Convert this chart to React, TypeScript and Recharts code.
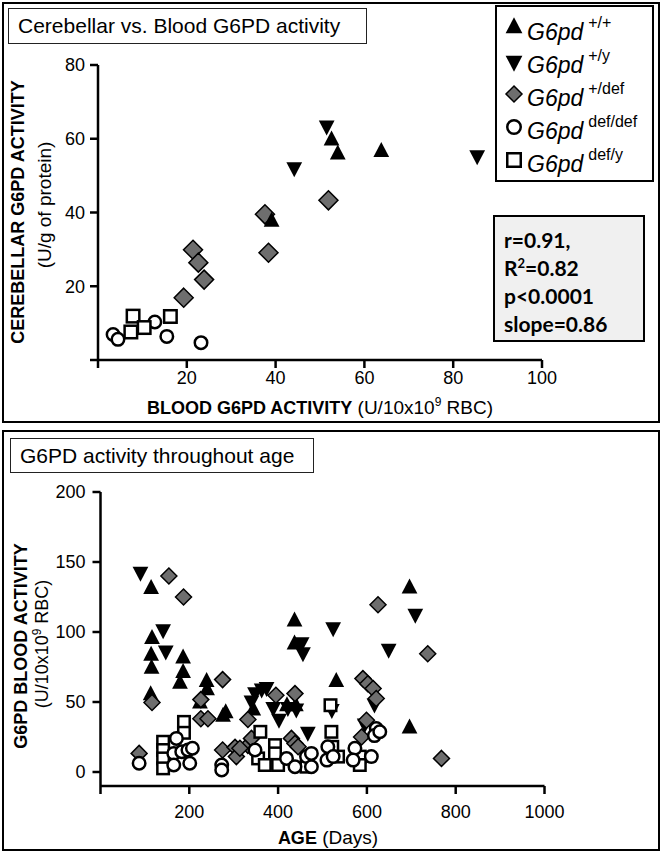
import { Scatter, ScatterChart, XAxis, YAxis } from "recharts";

// --- top panel: cerebellar vs. blood G6PD activity, [blood, cerebellum]
const cbWtFemale = [[52.6, 59.5], [54, 55.7], [63.8, 56.4], [39.1, 37.5]];
const cbWtMale = [[51.5, 63.6], [44.2, 52.3], [85.4, 55.5]];
const cbHet = [[21.4, 29.9], [22.6, 26.4], [23.9, 21.8], [19.3, 16.9], [37.6, 39.5], [38.4, 29.1], [51.9, 43.3]];
const cbDefFemale = [[3.4, 6.9], [4.5, 5.6], [12.8, 10.3], [15.5, 6.4], [23.2, 4.7]];
const cbDefMale = [[7.9, 11.9], [7.4, 7.6], [10.4, 8.8], [16.3, 11.8]];

// --- bottom panel: blood G6PD activity vs. age, [days, activity]
const ageWtFemale = [
  [114, 130.7], [116, 95], [114, 83], [115, 73.8], [113, 54.8], [186, 81], [186, 70.7], [179, 63],
  [239, 64.3], [240, 58.4], [224, 49], [276, 39.4], [282, 42], [437, 107.5], [437, 91], [344, 44],
  [420, 47], [440, 47], [531, 64.3], [696, 131], [696, 31],
];
const ageWtMale = [
  [90, 143], [141, 102], [147, 86.8], [348, 57], [363, 59.6], [374, 60.7], [340, 51], [389, 46.5],
  [402, 38], [422, 46.5], [441, 45.3], [453, 92.7], [456, 85.6], [467, 28.7], [524, 103.4], [521, 45],
  [595, 34.6], [617, 49], [649, 88], [709, 113],
];
const ageHet = [
  [87, 13.3], [116, 49.6], [154, 140], [187, 125], [226, 51.7], [226, 38], [242, 38], [275, 66],
  [275, 15.7], [303, 17.6], [306, 11], [332, 37.5], [332, 19], [314, 17], [340, 24], [395, 54.8],
  [438, 56], [430, 24], [438, 20.4], [445, 18], [591, 66.7], [602, 63], [614, 59.6], [621, 52.5],
  [599, 37], [588, 25], [625, 119.5], [737, 84.5], [768, 9.7],
];
const ageDefFemale = [
  [87, 6.2], [171, 24], [165, 13.3], [183, 14.5], [197, 15.7], [207, 17], [201, 6.2], [165, 5],
  [273, 5], [273, 1.4], [348, 15.7], [419, 9.7], [438, 3.8], [464, 11], [475, 13.3], [475, 3.8],
  [512, 18], [510, 8.5], [524, 11], [573, 17], [569, 8.5], [610, 11], [621, 31], [617, 26], [629, 28.7],
];
const ageDefMale = [
  [141, 21.6], [141, 15.7], [141, 9.7], [141, 2.6], [188, 35.8], [188, 28], [360, 28.7], [393, 19.2],
  [393, 13.3], [355, 9.7], [370, 5], [400, 5], [464, 3.8], [518, 47.7], [520, 28.7], [522, 18],
  [535, 11], [584, 11], [584, 5],
];

const topXTicks = [0, 20, 40, 60, 80, 100];
const topYTicks = [0, 20, 40, 60, 80];
const ageTicks = [0, 200, 400, 600, 800, 1000];
const bloodTicks = [-10, 0, 50, 100, 150, 200];

const genotypes = ["+/+", "+/y", "+/def", "def/def", "def/y"];
const statsLines = ["r=0.91,", "R2=0.82", "p<0.0001", "slope=0.86"];

const FONT = "'Liberation Sans', Arial, sans-serif";
const DIAMOND_FILL = "#6e6e6e";

const pts = (arr: number[][]) => arr.map(([x, y]) => ({ x, y }));

type Kind = "up" | "down" | "diamond" | "circle" | "square";
const kinds: Kind[] = ["up", "down", "diamond", "circle", "square"];

// s = rough outer size of the marker in px
const Marker = ({ kind, cx, cy, s }: { kind: Kind; cx: number; cy: number; s: number }) => {
  if (kind === "up" || kind === "down") {
    const w = s * 1.05;
    const h = s;
    const p =
      kind === "up"
        ? `${cx},${cy - (h * 2) / 3} ${cx - w / 2},${cy + h / 3} ${cx + w / 2},${cy + h / 3}`
        : `${cx - w / 2},${cy - h / 3} ${cx + w / 2},${cy - h / 3} ${cx},${cy + (h * 2) / 3}`;
    return <polygon points={p} fill="#000" />;
  }
  if (kind === "diamond") {
    const d = s / 2;
    return (
      <polygon
        points={`${cx},${cy - d} ${cx + d},${cy} ${cx},${cy + d} ${cx - d},${cy}`}
        fill={DIAMOND_FILL}
        stroke="#000"
        strokeWidth={1.5}
      />
    );
  }
  if (kind === "circle") {
    return <circle cx={cx} cy={cy} r={(s - 2.5) / 2} fill="#fff" stroke="#000" strokeWidth={2.5} />;
  }
  const h = (s - 2.5) / 2;
  return <rect x={cx - h} y={cy - h} width={h * 2} height={h * 2} fill="#fff" stroke="#000" strokeWidth={2.5} />;
};

const shapeOf = (kind: Kind, s: number) => (props: any) =>
  <Marker kind={kind} cx={props.cx} cy={props.cy} s={s} />;

const axisProps = {
  axisLine: { stroke: "#000", strokeWidth: 2.5 },
  tickLine: { stroke: "#000", strokeWidth: 2.5 },
  tick: { fill: "#000", fontSize: 18, fontFamily: FONT },
  tickSize: 8,
  allowDataOverflow: true,
};

const hideFirst = (first: number) => (v: number) => (v === first ? "" : String(v));

const Rotated = ({ x, y, children, style }: any) => (
  <div
    style={{
      position: "absolute",
      left: x,
      top: y,
      transform: "translate(-50%, -50%) rotate(-90deg)",
      whiteSpace: "nowrap",
      lineHeight: 1,
      ...style,
    }}
  >
    {children}
  </div>
);

const Centered = ({ x, y, children, style }: any) => (
  <div
    style={{
      position: "absolute",
      left: x,
      top: y,
      transform: "translate(-50%, -50%)",
      whiteSpace: "nowrap",
      lineHeight: 1,
      ...style,
    }}
  >
    {children}
  </div>
);

const Legend = () => (
  <div
    style={{
      position: "absolute",
      left: 495,
      top: 5,
      width: 159,
      height: 177,
      border: "2px solid #000",
      boxSizing: "border-box",
      background: "#fff",
    }}
  >
    {genotypes.map((g, i) => (
      <div key={g} style={{ position: "absolute", left: 7, top: 8 + i * 33, height: 30, display: "flex" }}>
        <svg width={20} height={30}>
          <Marker kind={kinds[i]} cx={10} cy={13} s={16} />
        </svg>
        <span style={{ fontFamily: FONT, fontStyle: "italic", fontSize: 23, marginLeft: 3, marginTop: 6, lineHeight: 1 }}>
          G6pd
        </span>
        <span style={{ fontFamily: FONT, fontSize: 16, marginLeft: 5, marginTop: 0, lineHeight: 1 }}>{g}</span>
      </div>
    ))}
  </div>
);

const Stats = () => (
  <div
    style={{
      position: "absolute",
      left: 493,
      top: 215,
      width: 152,
      height: 127,
      border: "2px solid #000",
      boxSizing: "border-box",
      background: "#f0f0f0",
      fontFamily: "Lato, 'Open Sans', sans-serif",
      fontWeight: 700,
      fontSize: 21,
      paddingLeft: 9,
      paddingTop: 9,
      lineHeight: "28px",
    }}
  >
    {statsLines.map((l) =>
      l.startsWith("R2") ? (
        <div key={l}>
          R<sup style={{ fontSize: 13, lineHeight: 0 }}>2</sup>
          {l.slice(2)}
        </div>
      ) : (
        <div key={l}>{l}</div>
      )
    )}
  </div>
);

const TitleBox = ({ left, top, width, height, text }: any) => (
  <div
    style={{
      position: "absolute",
      left,
      top,
      width,
      height,
      border: "1.5px solid #222",
      boxSizing: "border-box",
      fontFamily: FONT,
      fontSize: 21,
      display: "flex",
      alignItems: "center",
      paddingLeft: 9,
      background: "#fff",
    }}
  >
    {text}
  </div>
);

const panelStyle = (top: number): any => ({
  position: "absolute",
  left: 2,
  top,
  width: 658,
  height: 421,
  border: "2.5px solid #000",
  boxSizing: "border-box",
});

export default function App() {
  return (
    <div style={{ position: "absolute", left: 0, top: 0, width: 662, height: 853, background: "#fff", fontFamily: FONT }}>
      <div style={panelStyle(2)} />
      <div style={panelStyle(430)} />

      <div style={{ position: "absolute", left: 0, top: 0 }}>
        <ScatterChart width={662} height={430} margin={{ top: 65, right: 120, bottom: 30, left: 58 }}>
          <XAxis type="number" dataKey="x" domain={[0, 100]} ticks={topXTicks} height={40} tickMargin={3} tickFormatter={hideFirst(0)} {...axisProps} />
          <YAxis type="number" dataKey="y" domain={[0, 80]} ticks={topYTicks} width={40} tickMargin={5} tickFormatter={hideFirst(0)} {...axisProps} />
          <Scatter data={pts(cbHet)} shape={shapeOf("diamond", 19)} isAnimationActive={false} />
          <Scatter data={pts(cbDefFemale)} shape={shapeOf("circle", 15)} isAnimationActive={false} />
          <Scatter data={pts(cbDefMale)} shape={shapeOf("square", 15)} isAnimationActive={false} />
          <Scatter data={pts(cbWtMale)} shape={shapeOf("down", 15)} isAnimationActive={false} />
          <Scatter data={pts(cbWtFemale)} shape={shapeOf("up", 15)} isAnimationActive={false} />
        </ScatterChart>
      </div>

      <div style={{ position: "absolute", left: 0, top: 430 }}>
        <ScatterChart width={662} height={423} margin={{ top: 62, right: 117.5, bottom: 27, left: 60.5 }}>
          <XAxis type="number" dataKey="x" domain={[0, 1000]} ticks={ageTicks} height={40} tickMargin={11} tickFormatter={hideFirst(0)} {...axisProps} />
          <YAxis type="number" dataKey="y" domain={[-10, 200]} ticks={bloodTicks} width={40} tickMargin={7} tickFormatter={hideFirst(-10)} {...axisProps} />
          <Scatter data={pts(ageWtFemale)} shape={shapeOf("up", 15)} isAnimationActive={false} />
          <Scatter data={pts(ageWtMale)} shape={shapeOf("down", 15)} isAnimationActive={false} />
          <Scatter data={pts(ageHet)} shape={shapeOf("diamond", 16)} isAnimationActive={false} />
          <Scatter data={pts(ageDefMale)} shape={shapeOf("square", 14)} isAnimationActive={false} />
          <Scatter data={pts(ageDefFemale)} shape={shapeOf("circle", 15)} isAnimationActive={false} />
        </ScatterChart>
      </div>

      <TitleBox left={8} top={8} width={359} height={36} text="Cerebellar vs. Blood G6PD activity" />
      <TitleBox left={10} top={438} width={304} height={35} text="G6PD activity throughout age" />
      <Legend />
      <Stats />

      <Rotated x={18} y={212} style={{ fontWeight: 700, fontSize: 18 }}>CEREBELLAR G6PD ACTIVITY</Rotated>
      <Rotated x={44} y={205} style={{ fontSize: 19 }}>(U/g of protein)</Rotated>
      <Centered x={320} y={407} style={{ fontSize: 19 }}>
        <b style={{ fontSize: 18 }}>BLOOD G6PD ACTIVITY</b> (U/10x10<sup style={{ fontSize: 12, lineHeight: 0 }}>9</sup> RBC)
      </Centered>

      <Rotated x={21} y={646} style={{ fontWeight: 700, fontSize: 18 }}>G6PD BLOOD ACTIVITY</Rotated>
      <Rotated x={42} y={644} style={{ fontSize: 18 }}>
        (U/10x10<sup style={{ fontSize: 12, lineHeight: 0 }}>9</sup> RBC)
      </Rotated>
      <Centered x={328} y={837} style={{ fontSize: 19 }}>
        <b style={{ fontSize: 18 }}>AGE</b> (Days)
      </Centered>
    </div>
  );
}
